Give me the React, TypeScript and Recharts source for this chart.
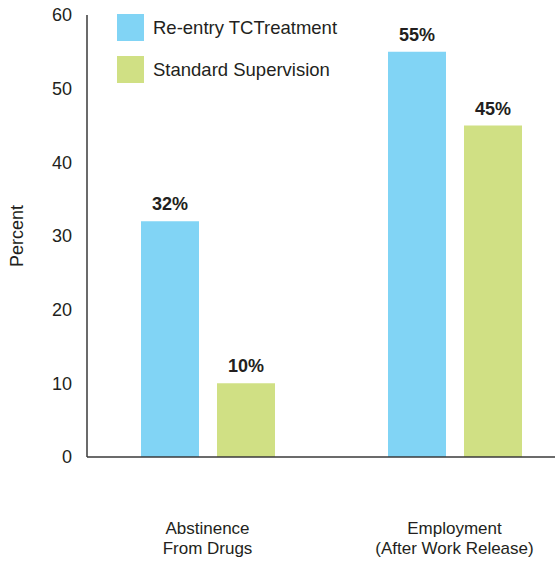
import React from "react";
import { BarChart, Bar, XAxis, YAxis, Legend, LabelList, Label } from "recharts";

const categories = ["Abstinence\nFrom Drugs", "Employment\n(After Work Release)"];
const reentryValues = [32, 55];
const standardValues = [10, 45];
const yTicks = [0, 10, 20, 30, 40, 50, 60];

const FONT = '"Liberation Sans", Arial, Helvetica, sans-serif';
const TEXT = "#231f20";
const BLUE = "#81d4f5";
const GREEN = "#d0e084";

const data = categories.map((category, i) => ({
  category,
  reentry: reentryValues[i],
  standard: standardValues[i],
}));

// two-line category label, one <text> per line
function CategoryTick(props: any) {
  const { x, y, payload } = props;
  const lines = String(payload.value).split("\n");
  return (
    <g>
      {lines.map((line, i) => (
        <text
          key={i}
          x={x}
          y={y + 77 + i * 20}
          textAnchor="middle"
          fill={TEXT}
          fontSize={17}
          fontFamily={FONT}
        >
          {line}
        </text>
      ))}
    </g>
  );
}

function LegendBox(props: any) {
  const items = props.payload || [];
  return (
    <div style={{ fontFamily: FONT, fontSize: 18.5, color: TEXT }}>
      {items.map((item: any, i: number) => (
        <div
          key={i}
          style={{ display: "flex", alignItems: "center", height: 27, marginBottom: i === 0 ? 15 : 0 }}
        >
          <div style={{ width: 27, height: 27, background: item.color, marginRight: 9 }} />
          <span style={{ whiteSpace: "nowrap" }}>{item.value}</span>
        </div>
      ))}
    </div>
  );
}

export default function App() {
  return (
    <div style={{ width: 555, height: 561, overflow: "hidden", position: "relative" }}>
      <style>{"body{margin:0}"}</style>
      <BarChart
        width={578}
        height={561}
        data={data}
        margin={{ top: 15, right: 0, left: 0, bottom: 0 }}
        barSize={58}
        barGap={18}
      >
        <XAxis
          dataKey="category"
          height={104}
          padding={{ left: -3, right: 0 }}
          tickLine={false}
          tickSize={0}
          tickMargin={0}
          interval={0}
          axisLine={{ stroke: "#3a3a3a", strokeWidth: 1.5 }}
          tick={<CategoryTick />}
        />
        <YAxis
          width={87}
          domain={[0, 60]}
          ticks={yTicks}
          tickLine={false}
          tickSize={0}
          tickMargin={15}
          axisLine={{ stroke: "#3a3a3a", strokeWidth: 1.5 }}
          tick={{ fill: TEXT, fontSize: 18, fontFamily: FONT }}
        >
          <Label
            value="Percent"
            angle={-90}
            position="insideLeft"
            offset={17}
            style={{ textAnchor: "middle", fill: TEXT, fontSize: 18, fontFamily: FONT }}
          />
        </YAxis>
        <Legend
          layout="vertical"
          align="center"
          verticalAlign="middle"
          content={<LegendBox />}
          wrapperStyle={{ left: 117, top: 14, width: 300 }}
        />
        <Bar dataKey="reentry" name="Re-entry TCTreatment" fill={BLUE} isAnimationActive={false}>
          <LabelList
            dataKey="reentry"
            position="top"
            offset={11}
            formatter={(v: any) => `${v}%`}
            style={{ fill: TEXT, fontSize: 18, fontWeight: "bold", fontFamily: FONT }}
          />
        </Bar>
        <Bar dataKey="standard" name="Standard Supervision" fill={GREEN} isAnimationActive={false}>
          <LabelList
            dataKey="standard"
            position="top"
            offset={11}
            formatter={(v: any) => `${v}%`}
            style={{ fill: TEXT, fontSize: 18, fontWeight: "bold", fontFamily: FONT }}
          />
        </Bar>
      </BarChart>
    </div>
  );
}
